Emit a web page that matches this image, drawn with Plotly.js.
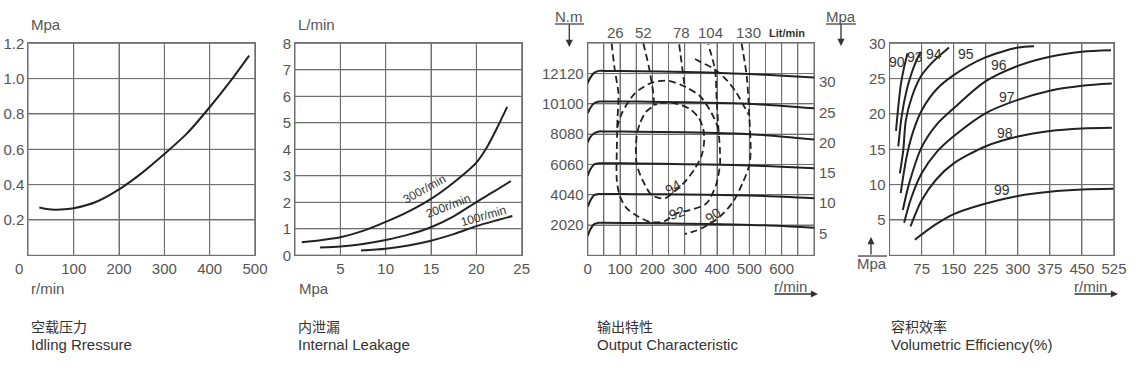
<!DOCTYPE html>
<html><head><meta charset="utf-8">
<script src="https://cdn.plot.ly/plotly-3.0.1.min.js"></script>
<style>html,body{margin:0;padding:0;background:#fff}#c{width:1137px;height:370px}</style>
</head><body><div id="c"></div>
<script>
// ---------- Chart 1: Idling pressure ----------
const idleRpm = [24, 40, 60, 80, 100, 150, 200, 250, 300, 350, 400, 450, 487];
const idleMpa = [0.27, 0.262, 0.258, 0.26, 0.266, 0.303, 0.373, 0.465, 0.573, 0.69, 0.838, 1.0, 1.13];
const c1XTicks = [100, 200, 300, 400, 500];
const c1YTicks = [0.2, 0.4, 0.6, 0.8, 1.0, 1.2];
const c1YText = ['0.2', '0.4', '0.6', '0.8', '1.0', '1.2'];

// ---------- Chart 2: Internal leakage ----------
const leak300X = [0.74, 3, 5, 7.5, 10, 12.5, 15, 17.5, 20, 21.2, 22.2, 23.4];
const leak300Y = [0.49, 0.58, 0.68, 0.92, 1.26, 1.65, 2.13, 2.75, 3.5, 4.1, 4.75, 5.6];
const leak200X = [2.76, 5, 7.5, 10, 12.5, 15, 17.5, 20, 22, 23.8];
const leak200Y = [0.29, 0.33, 0.43, 0.58, 0.78, 1.06, 1.47, 2.01, 2.42, 2.8];
const leak100X = [7.28, 10, 12.5, 15, 17.5, 20, 22, 23.97];
const leak100Y = [0.18, 0.25, 0.37, 0.55, 0.8, 1.1, 1.3, 1.48];
const c2XTicks = [5, 10, 15, 20, 25];
const c2YTicks = [0, 1, 2, 3, 4, 5, 6, 7, 8];
const leakLabels = ['300r/min', '200r/min', '100r/min'];
const leakLabelX = [14.3, 16.9, 20.8];
const leakLabelY = [2.5, 1.85, 1.5];

// ---------- Chart 3: Output characteristic ----------
const outRpm = [0, 8, 20, 35, 50, 150, 300, 450, 550, 700];
const torque12120 = [11480, 11850, 12170, 12300, 12300, 12280, 12230, 12130, 12040, 11860];
const torque10100 = [9480, 9830, 10140, 10260, 10260, 10250, 10210, 10140, 10040, 9800];
const torque8080 = [7530, 7880, 8140, 8260, 8260, 8240, 8200, 8120, 8010, 7720];
const torque6060 = [5320, 5720, 6060, 6140, 6140, 6130, 6080, 6020, 5950, 5800];
const torque4040 = [3230, 3640, 4010, 4090, 4090, 4080, 4050, 4010, 3950, 3800];
const torque2020 = [1300, 1720, 2080, 2170, 2170, 2150, 2110, 2060, 2000, 1840];
const c3XGrid = [0, 50, 100, 150, 200, 250, 300, 350, 400, 450, 500, 550, 600, 650];
const c3XText = ['0', '', '100', '', '200', '', '300', '', '400', '', '500', '', '600', ''];
const c3YTicks = [2020, 4040, 6060, 8080, 10100, 12120];
const c3YText = ['2020', '4040', '6060', '8080', '10100', '12120'];
const c3MpaTicks = [5, 10, 15, 20, 25, 30];
const flowLabels = ['26', '52', '78', '104', '130'];
const flowLabelRpm = [87.5, 172, 291, 380, 497];
// flow 26 / 104 U-shaped line (92 % bottom)
const dashUX = [74, 84, 95, 92, 90, 90, 100, 121, 157, 198, 239, 275, 316, 347, 369, 397, 409, 409, 404, 399, 394, 373];
const dashUY = [14140, 12340, 10805, 9025, 7025, 5025, 3910, 3135, 2575, 2200, 2290, 2800, 3020, 3220, 3490, 4690, 6025, 7025, 8580, 10360, 12340, 14070];
// 92 % top arc
const arc92X = [91, 106, 146, 198, 249, 301, 347, 378, 400, 406];
const arc92Y = [8490, 9490, 10805, 11510, 11645, 11245, 10625, 9690, 8690, 8025];
// flow 78
const flow78X = [283, 296, 300];
const flow78Y = [14070, 11910, 11245];
// flow 52 and 94 % loop
const loop94X = [172, 193, 203, 180, 162, 152, 149, 152, 172, 198, 239, 270, 301, 332, 353, 360, 358, 344, 316, 279, 239, 203];
const loop94Y = [14140, 12140, 10025, 9560, 8825, 8025, 7025, 6025, 4910, 4020, 3800, 4290, 4910, 5800, 6690, 7560, 8360, 9160, 9760, 10090, 10190, 10025];
// flow 130 and 90 % contour
const flow130X = [476, 492, 500, 504, 500, 481, 450, 409, 366, 332, 301];
const flow130Y = [14140, 11910, 9245, 7025, 6025, 4910, 3575, 2575, 1955, 1620, 1420];
const upper90X = [332, 347, 388, 430, 461, 497];
const upper90Y = [13090, 12915, 12470, 11690, 10805, 9400];
const effLabels3 = ['94', '92', '90'];
const effLabel3X = [265, 275, 389];
const effLabel3Y = [4576, 2800, 2690];

// ---------- Chart 4: Volumetric efficiency ----------
const ve90X = [15, 20.3, 26.6, 34.3, 42];
const ve90Y = [17.6, 21, 24.3, 26.7, 28.6];
const ve93X = [20.3, 28, 40, 51.6, 63, 73];
const ve93Y = [15.4, 19.6, 23.4, 25.8, 27.6, 28.8];
const ve94X = [24, 32, 38, 52, 73, 100, 139];
const ve94Y = [11.6, 14.9, 19.1, 22.4, 25.3, 27.3, 29.4];
const ve95X = [26, 40, 55, 75, 110, 150, 224, 300, 338];
const ve95Y = [8.8, 14, 17.5, 20.5, 23.5, 25.5, 28, 29.4, 29.6];
const ve96X = [31, 45, 75, 110, 150, 224, 300, 375, 450, 518];
const ve96Y = [6.4, 10, 15.3, 18.5, 20.8, 24.6, 26.8, 28.1, 28.8, 29.0];
const ve97X = [34, 50, 75, 110, 149, 224, 300, 375, 450, 520];
const ve97Y = [4.6, 8, 11.6, 14.6, 16.8, 20.1, 22.0, 23.3, 24.0, 24.3];
const ve98X = [49, 60, 75, 110, 150, 224, 300, 375, 450, 520];
const ve98Y = [4.1, 5.8, 7.8, 10.8, 13.0, 15.4, 16.8, 17.6, 17.95, 18.05];
const ve99X = [59, 106, 149, 223, 300, 375, 451, 524];
const ve99Y = [2.2, 4.3, 5.8, 7.3, 8.4, 9.0, 9.3, 9.4];
const effLabels4 = ['90', '93', '94', '95', '96', '97', '98', '99'];
const effLabel4X = [16.6, 59, 104, 178.5, 256, 275, 271, 262];
const effLabel4Y = [27.4, 28.1, 28.5, 28.5, 26.9, 22.4, 17.3, 9.2];
const c4XTicks = [75, 150, 225, 300, 375, 450, 525];
const c4YTicks = [5, 10, 15, 20, 25, 30];

// ---------- captions ----------
const captionCn = ['空载压力', '内泄漏', '输出特性', '容积效率'];
const captionEn = ['Idling Rressure', 'Internal Leakage', 'Output Characteristic', 'Volumetric Efficiency(%)'];

(function () {
  const W = 1137, H = 370;
  const toPx = p => p / W, toPy = p => 1 - p / H;
  const FONT = 'Liberation Sans, Arial, sans-serif';
  const TXT = '#555';
  const GRID = '#707070';
  const LINE = '#222';
  const tickFontObj = () => ({family: FONT, size: 15, color: TXT});
  const yDomain = () => [toPy(255.3), toPy(43.3)];
  const r1x = [0, 500], r1y = [0, 1.2], r2x = [0, 25], r2y = [0, 8], r3x = [0, 700], r3y = [0, 14140], r4x = [0, 525], r4y = [0, 30];

  function makeAxis(dom, range, tickvals, extra) {
    return Object.assign({domain: dom, range: range, tickvals: tickvals, showgrid: true, gridcolor: GRID,
      showline: true, mirror: true, linecolor: GRID, zeroline: false, ticks: '', tickfont: tickFontObj()}, extra || {});
  }

  // grid + frame as line traces built from the tick arrays and axis ranges
  const gridTrace = (xVals, yVals, xr, yr, xa, ya) => {
    const gx = [], gy = [];
    xVals.concat(xr).forEach(v => { gx.push(v, v, null); gy.push(yr[0], yr[1], null); });
    yVals.concat(yr).forEach(v => { gx.push(xr[0], xr[1], null); gy.push(v, v, null); });
    return {x: gx, y: gy, xaxis: xa, yaxis: ya, type: 'scatter', mode: 'lines', connectgaps: false, cliponaxis: false,
      line: {color: GRID, width: 1}, hoverinfo: 'skip', showlegend: false};
  };

  const makeCurve = (x, y, xa, ya, dashed) => ({x: x, y: y, xaxis: xa, yaxis: ya, type: 'scatter', mode: 'lines',
    line: {color: LINE, width: dashed ? 1.8 : 2, shape: 'spline', smoothing: 0.8, dash: dashed ? '7px,4px' : 'solid'},
    hoverinfo: 'skip', showlegend: false});

  const traces = [
    gridTrace(c1XTicks, c1YTicks, r1x, r1y, 'x', 'y'),
    gridTrace(c2XTicks, c2YTicks, r2x, r2y, 'x2', 'y2'),
    gridTrace(c3XGrid, c3YTicks, r3x, r3y, 'x3', 'y3'),
    gridTrace(c4XTicks, c4YTicks, r4x, r4y, 'x4', 'y4'),
    makeCurve(idleRpm, idleMpa, 'x', 'y'),
    makeCurve(leak300X, leak300Y, 'x2', 'y2'),
    makeCurve(leak200X, leak200Y, 'x2', 'y2'),
    makeCurve(leak100X, leak100Y, 'x2', 'y2'),
    makeCurve(outRpm, torque12120, 'x3', 'y3'),
    makeCurve(outRpm, torque10100, 'x3', 'y3'),
    makeCurve(outRpm, torque8080, 'x3', 'y3'),
    makeCurve(outRpm, torque6060, 'x3', 'y3'),
    makeCurve(outRpm, torque4040, 'x3', 'y3'),
    makeCurve(outRpm, torque2020, 'x3', 'y3'),
    makeCurve(dashUX, dashUY, 'x3', 'y3', true),
    makeCurve(arc92X, arc92Y, 'x3', 'y3', true),
    makeCurve(flow78X, flow78Y, 'x3', 'y3', true),
    makeCurve(loop94X, loop94Y, 'x3', 'y3', true),
    makeCurve(flow130X, flow130Y, 'x3', 'y3', true),
    makeCurve(upper90X, upper90Y, 'x3', 'y3', true),
    makeCurve(ve90X, ve90Y, 'x4', 'y4'),
    makeCurve(ve93X, ve93Y, 'x4', 'y4'),
    makeCurve(ve94X, ve94Y, 'x4', 'y4'),
    makeCurve(ve95X, ve95Y, 'x4', 'y4'),
    makeCurve(ve96X, ve96Y, 'x4', 'y4'),
    makeCurve(ve97X, ve97Y, 'x4', 'y4'),
    makeCurve(ve98X, ve98Y, 'x4', 'y4'),
    makeCurve(ve99X, ve99Y, 'x4', 'y4')
  ];

  const annList = [];
  const addText = (x, y, text, o) => annList.push(Object.assign({xref: 'paper', yref: 'paper', x: toPx(x), y: toPy(y), text: text,
    showarrow: false, font: {family: FONT, size: 15, color: TXT}, xanchor: 'center', yanchor: 'middle'}, o || {}));
  const addArrow = (x, y, ax, ay) => annList.push({xref: 'paper', yref: 'paper', x: toPx(x), y: toPy(y), ax: ax, ay: ay, text: '',
    showarrow: true, arrowhead: 2, arrowsize: 1.1, arrowwidth: 1.3, arrowcolor: '#333'});

  addText(29, 24, 'Mpa', {xanchor: 'left'});
  addText(29, 288, 'r/min', {xanchor: 'left'});
  addText(19, 268, '0');
  addText(296, 24, 'L/min', {xanchor: 'left'});
  addText(297, 288, 'Mpa', {xanchor: 'left'});
  addText(569, 17, 'N.m');
  addText(841, 17, 'Mpa');
  addText(790, 286, 'r/min');
  addText(1090, 286, 'r/min');
  addText(872, 263, 'Mpa');
  addText(787, 33, 'Lit/min', {font: {family: FONT, size: 11, color: '#333', weight: 'bold'}});
  addArrow(569.3, 47, 0, -24);
  addArrow(841, 46, 0, -23);
  addArrow(818, 294, -45, 0);
  addArrow(1118, 294, -45, 0);
  addArrow(871, 237, 0, 19);

  c3MpaTicks.forEach(v => annList.push({xref: 'paper', yref: 'y5', x: toPx(817), y: v, text: String(v), showarrow: false,
    xanchor: 'left', yanchor: 'middle', font: tickFontObj()}));
  flowLabels.forEach((t, i) => annList.push({xref: 'x3', yref: 'paper', x: flowLabelRpm[i], y: toPy(33), text: t, showarrow: false,
    xanchor: 'center', yanchor: 'middle', font: tickFontObj()}));
  const leakAngles = [-29, -21, -16];
  leakLabels.forEach((t, i) => annList.push({xref: 'x2', yref: 'y2', x: leakLabelX[i], y: leakLabelY[i], text: t, showarrow: false,
    textangle: leakAngles[i], font: {family: FONT, size: 12, color: '#333'}}));
  const eff3Angles = [-30, -20, -35];
  effLabels3.forEach((t, i) => annList.push({xref: 'x3', yref: 'y3', x: effLabel3X[i], y: effLabel3Y[i], text: t, showarrow: false,
    textangle: eff3Angles[i], font: {family: FONT, size: 14, color: '#333'}}));
  effLabels4.forEach((t, i) => annList.push({xref: 'x4', yref: 'y4', x: effLabel4X[i], y: effLabel4Y[i], text: t, showarrow: false,
    font: {family: FONT, size: 14, color: '#333'}}));
  const capX = [29, 296, 595, 889];
  captionCn.forEach((t, i) => {
    addText(capX[i], 326, t, {xanchor: 'left', font: {family: 'Noto Sans CJK SC, sans-serif', size: 14, color: '#333'}});
    addText(capX[i], 344, captionEn[i], {xanchor: 'left', font: {family: FONT, size: 15, color: '#333'}});
  });

  const seg = (x0, y0, x1, y1) => ({type: 'line', xref: 'paper', yref: 'paper', x0: toPx(x0), y0: toPy(y0), x1: toPx(x1), y1: toPy(y1),
    line: {color: '#333', width: 1.2}});
  const shapeList = [seg(555, 24, 584, 24), seg(826, 24, 856, 24), seg(858, 256, 887, 256)];

  const layout = {
    width: W, height: H, margin: {l: 0, r: 0, t: 0, b: 0}, showlegend: false,
    plot_bgcolor: 'rgba(0,0,0,0)', paper_bgcolor: '#fff',
    xaxis: makeAxis([toPx(28.4), toPx(255)], r1x, c1XTicks, {anchor: 'y'}),
    yaxis: makeAxis(yDomain(), r1y, c1YTicks, {anchor: 'x', ticktext: c1YText}),
    xaxis2: makeAxis([toPx(295), toPx(521.7)], r2x, c2XTicks, {anchor: 'y2'}),
    yaxis2: makeAxis(yDomain(), r2y, c2YTicks, {anchor: 'x2'}),
    xaxis3: makeAxis([toPx(587.7), toPx(814)], r3x, c3XGrid, {anchor: 'y3', ticktext: c3XText}),
    yaxis3: makeAxis(yDomain(), r3y, c3YTicks, {anchor: 'x3', ticktext: c3YText}),
    yaxis5: {overlaying: 'y3', anchor: 'x3', side: 'right', range: [1.37, 36.33], visible: false},
    xaxis4: makeAxis([toPx(889.6), toPx(1114)], r4x, c4XTicks, {anchor: 'y4'}),
    yaxis4: makeAxis(yDomain(), r4y, c4YTicks, {anchor: 'x4'}),
    annotations: annList, shapes: shapeList
  };
  Plotly.newPlot('c', traces, layout, {displayModeBar: false});
})();
</script></body></html>
